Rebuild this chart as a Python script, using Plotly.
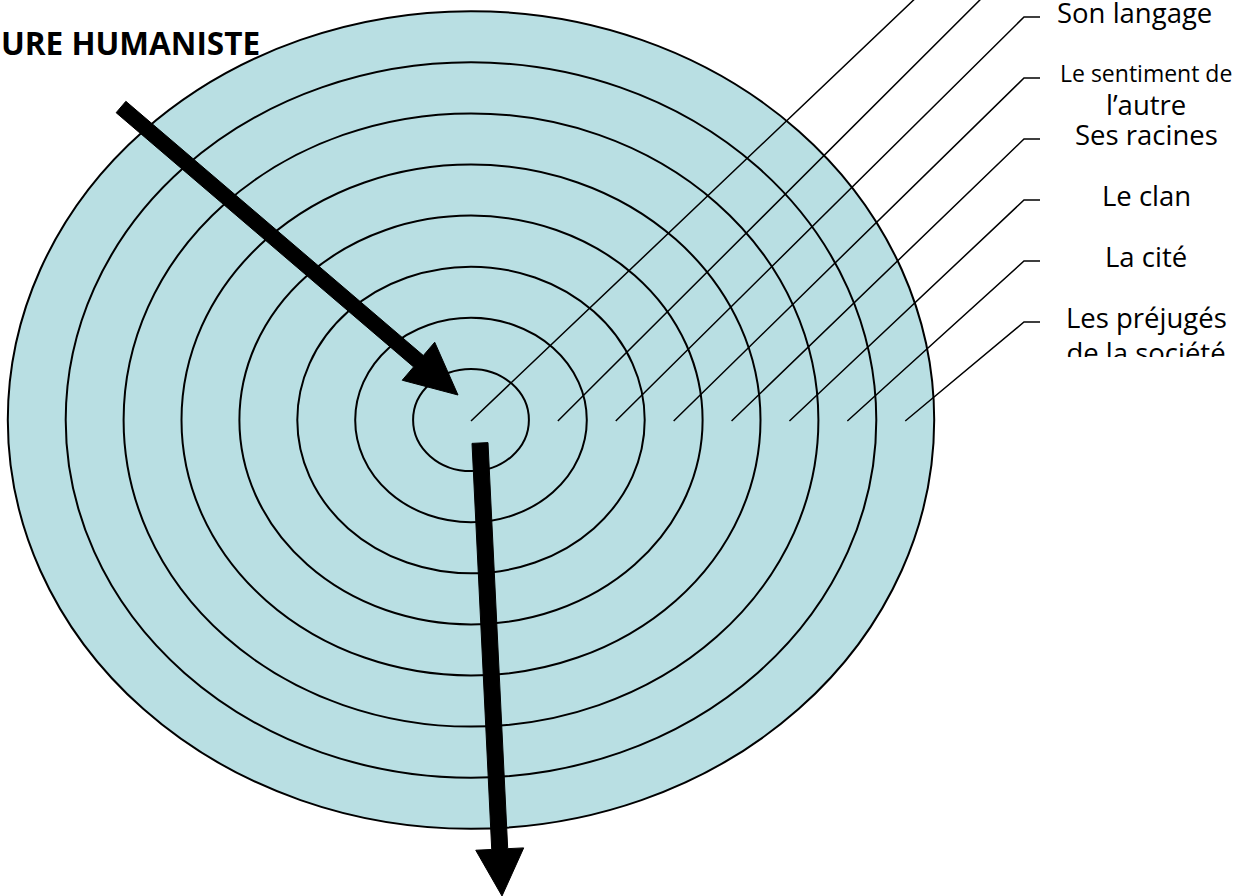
import numpy as np
import plotly.graph_objects as go

# ---- content ----
rings = [1, 2, 3, 4, 5, 6, 7, 8]            # concentric circles (inner -> outer)
label_texts = ["Son langage", "Le sentiment de", "l’autre", "Ses racines",
               "Le clan", "La cité", "Les préjugés"]
label_ring = [3, 4, 4, 5, 6, 7, 8]          # ring each label belongs to
label_line = [0, 0, 1, 0, 0, 0, 0]          # line index inside a multi-line label
label_small = [False, True, False, False, False, False, False]
clipped_label = "de la société"
title_text = "URE HUMANISTE"

# ---- layout constants ----
W, H = 1252, 896
CX, CY = 471, 420
RX, RY = 57.9, 51.1
FILL = "#B9DFE3"
ELBOW_X, END_X = 1024, 1040
ELBOW_Y0, ELBOW_DY = 17, 61      # elbow y of ring 3, spacing
LINE_Y = 421
LABEL_X = 1146
FONT = "Open Sans"
LABEL_SIZE = 27.5

fig = go.Figure()

shapes = []
for k in sorted(rings, reverse=True):
    shapes.append(dict(type="circle", xref="x", yref="y",
                       x0=CX - RX * k, x1=CX + RX * k,
                       y0=CY - RY * k, y1=CY + RY * k,
                       fillcolor=FILL, line=dict(color="black", width=2),
                       layer="below"))

# callout lines
for k in rings:
    sx = CX if k == 1 else CX + RX * (k - 0.5)
    ey = ELBOW_Y0 + ELBOW_DY * (k - 3)
    fig.add_trace(go.Scatter(x=[sx, ELBOW_X, END_X], y=[LINE_Y, ey, ey],
                             mode="lines", line=dict(color="black", width=1.5),
                             hoverinfo="skip"))


def arrow(x0, y0, x1, y1, sw, hl, hw):
    p0 = np.array([x0, y0], float)
    p1 = np.array([x1, y1], float)
    d = p1 - p0
    u = d / np.hypot(*d)
    n = np.array([-u[1], u[0]])
    b = p1 - u * hl
    pts = [p0 + n * sw, b + n * sw, b + n * hw, p1, b - n * hw,
           b - n * sw, p0 - n * sw, p0 + n * sw]
    return [p[0] for p in pts], [p[1] for p in pts]


for a in [(121, 107, 458, 395, 7.5, 52, 25), (480, 443, 502, 896, 8, 47, 24)]:
    xs, ys = arrow(*a)
    fig.add_trace(go.Scatter(x=xs, y=ys, mode="lines", fill="toself",
                             fillcolor="black", line=dict(color="black", width=1),
                             hoverinfo="skip"))

annotations = [dict(x=0, y=1 - 43 / H, xref="paper", yref="paper", xshift=-1,
                    text="<b>" + title_text + "</b>",
                    showarrow=False, xanchor="left", yanchor="middle",
                    font=dict(family=FONT, size=31.5, color="black"))]
for txt, k, ln, sm in zip(label_texts, label_ring, label_line, label_small):
    ey = ELBOW_Y0 + ELBOW_DY * (k - 3)
    y = ey - 5 + ln * 31
    x = LABEL_X - (12 if k == 3 else 0)
    annotations.append(dict(x=x, y=y, xref="x", yref="y", text=txt,
                            showarrow=False, xanchor="center", yanchor="middle",
                            font=dict(family=FONT, size=23 if sm else LABEL_SIZE,
                                      color="black")))

# second line of the last label, partly hidden by a white band below it
fig.add_trace(go.Scatter(x=[LABEL_X], y=[356],
                         mode="text", text=[clipped_label], textposition="middle center",
                         textfont=dict(family=FONT, size=LABEL_SIZE, color="black"),
                         cliponaxis=True, hoverinfo="skip"))
shapes.append(dict(type="rect", xref="x", yref="y", x0=1045, x1=1250, y0=357, y1=392,
                   fillcolor="white", line=dict(width=0), layer="above"))

fig.update_layout(
    width=W, height=H, margin=dict(l=0, r=0, t=0, b=0),
    paper_bgcolor="white", plot_bgcolor="white", showlegend=False,
    xaxis=dict(range=[0, W], visible=False, fixedrange=True),
    yaxis=dict(range=[H, 0], visible=False, fixedrange=True),
    shapes=shapes, annotations=annotations,
)

fig.write_html("out.html", config={"displayModeBar": False},
               post_script="document.body.style.margin='0';")
